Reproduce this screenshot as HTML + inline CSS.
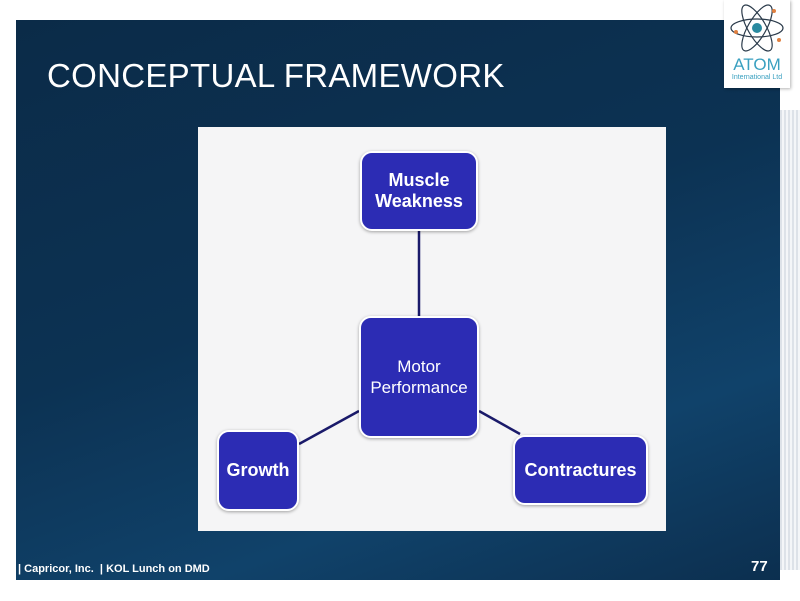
<!DOCTYPE html>
<html><head><style>
body{margin:0;width:800px;height:601px;background:#fff;position:relative;overflow:hidden;font-family:"Liberation Sans",sans-serif}
#bg{position:absolute;left:16px;top:20px;width:764px;height:560px;background:linear-gradient(160deg,#0b2b48 0%,#0c3253 45%,#10426a 75%,#0c2f4f 100%)}
#stripe{position:absolute;left:780px;top:110px;width:20px;height:460px;background:repeating-linear-gradient(90deg,#dde2e8 0 2px,#f4f6f8 2px 4px)}
#logo{position:absolute;left:724px;top:0;width:66px;height:88px;background:#fff;box-shadow:1px 1px 3px rgba(0,0,0,.3)}
.t{position:absolute;color:#fff}
#panel{position:absolute;left:198px;top:127px;width:468px;height:404px;background:#f5f5f6}
.n{position:absolute;background:#2c2cb4;border:2px solid #fff;border-radius:12px;box-shadow:0 1px 3px rgba(0,0,0,.35);color:#fff;display:flex;align-items:center;justify-content:center;text-align:center;box-sizing:border-box;font-size:18px;line-height:21px}
</style></head><body>
<div id="bg"></div>
<div id="stripe"></div>
<div id="logo">
<svg width="66" height="88" viewBox="0 0 66 88">
<g fill="none" stroke="#2a3a4a" stroke-width="1.2">
<ellipse cx="33" cy="28" rx="26" ry="9"/>
<ellipse cx="33" cy="28" rx="26" ry="9" transform="rotate(60 33 28)"/>
<ellipse cx="33" cy="28" rx="26" ry="9" transform="rotate(-60 33 28)"/>
</g>
<circle cx="33" cy="28" r="5" fill="#2a8aa0"/>
<circle cx="12" cy="32" r="2" fill="#e08040"/><circle cx="50" cy="11" r="2" fill="#e08040"/><circle cx="55" cy="40" r="2" fill="#e08040"/>
<text x="33" y="70" text-anchor="middle" fill="#3aa0c0" font-family="Liberation Sans" font-size="17">ATOM</text>
<text x="33" y="79" text-anchor="middle" fill="#3aa0c0" font-family="Liberation Sans" font-size="7">International Ltd</text>
</svg></div>
<div class="t" style="left:47px;top:57px;font-size:33px;letter-spacing:0.3px">CONCEPTUAL FRAMEWORK</div>
<div id="panel"></div>
<svg style="position:absolute;left:0;top:0" width="800" height="601">
<g stroke="#1a1a6a" stroke-width="2.5">
<line x1="419" y1="230" x2="419" y2="317"/>
<line x1="359" y1="411" x2="299" y2="444"/>
<line x1="479" y1="411" x2="520" y2="434"/>
</g></svg>
<div class="n" style="left:360px;top:151px;width:118px;height:80px;font-weight:bold">Muscle<br>Weakness</div>
<div class="n" style="left:359px;top:316px;width:120px;height:122px;font-size:17px">Motor<br>Performance</div>
<div class="n" style="left:217px;top:430px;width:82px;height:81px;font-weight:bold">Growth</div>
<div class="n" style="left:513px;top:435px;width:135px;height:70px;font-weight:bold">Contractures</div>
<div class="t" style="left:18px;top:563px;font-size:11px;font-weight:bold">| Capricor, Inc. &nbsp;| KOL Lunch on DMD</div>
<div class="t" style="left:751px;top:558px;font-size:15px;font-weight:bold">77</div>
</body></html>
